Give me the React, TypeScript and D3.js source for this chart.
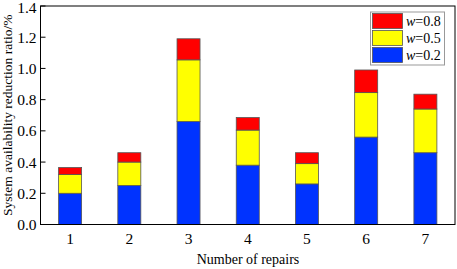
import React from "react";
import * as d3 from "d3";

const categories = ["1", "2", "3", "4", "5", "6", "7"];
const w02 = [0.2, 0.25, 0.66, 0.38, 0.26, 0.56, 0.46];
const w05 = [0.12, 0.15, 0.395, 0.225, 0.13, 0.285, 0.28];
const w08 = [0.045, 0.06, 0.135, 0.08, 0.07, 0.145, 0.095];
const yTicks = [0, 0.2, 0.4, 0.6, 0.8, 1.0, 1.2, 1.4];
const colors = ["#0033ff", "#ffff00", "#ff0000"];

const W = 457, H = 269;
const M = { left: 40.5, right: 455, top: 6, bottom: 224.5 };
const font = "'Liberation Serif', 'Times New Roman', serif";

export default function App() {
  const x = d3.scaleLinear().domain([0.5, 7.5]).range([M.left, M.right]);
  const y = d3.scaleLinear().domain([0, 1.4]).range([M.bottom, M.top]);
  const rows = categories.map((c, i) => ({ c, i, a: w02[i], b: w05[i], r: w08[i] }));
  const stack = d3.stack<any>().keys(["a", "b", "r"])(rows);
  const bw = 23;
  const legend = [
    { name: "0.8", color: colors[2] },
    { name: "0.5", color: colors[1] },
    { name: "0.2", color: colors[0] },
  ];
  return (
    <svg width={W} height={H} style={{ position: "absolute", left: 0, top: 0, background: "#fff" }} fontFamily={font}>
      {stack.map((s, si) => (
        <g key={si}>
          {s.map((d, i) => (
            <rect key={i} x={x(i + 1) - bw / 2} width={bw} y={y(d[1])} height={y(d[0]) - y(d[1])}
              fill={colors[si]} stroke="#555" strokeWidth={0.8} />
          ))}
        </g>
      ))}
      <rect x={M.left} y={M.top} width={M.right - M.left} height={M.bottom - M.top} fill="none" stroke="#000" strokeWidth={1} />
      {yTicks.map((t) => (
        <g key={t}>
          <line x1={M.left} x2={M.left + 5} y1={y(t)} y2={y(t)} stroke="#000" />
          <text x={M.left - 4} y={Math.max(y(t) + 5.5, 13)} textAnchor="end" fontSize={15.5}>{t.toFixed(1)}</text>
        </g>
      ))}
      {categories.map((c, i) => (
        <text key={c} x={x(i + 1)} y={244} textAnchor="middle" fontSize={15.5}>{c}</text>
      ))}
      <text x={248} y={264} textAnchor="middle" fontSize={14}>Number of repairs</text>
      <text transform={`translate(12,${(M.top + M.bottom) / 2}) rotate(-90)`} textAnchor="middle" fontSize={13.5}>System availability reduction ratio/%</text>
      <rect x={370.5} y={12} width={74} height={53} fill="#fff" stroke="#999" strokeWidth={1} />
      {legend.map((l, i) => (
        <g key={l.name}>
          <rect x={372.5} y={13.5 + i * 17} width={30} height={15} fill={l.color} stroke="#555" strokeWidth={0.8} />
          <text x={406} y={21 + i * 17} dy="0.35em" fontSize={14}>
            <tspan fontStyle="italic">w</tspan>={l.name}
          </text>
        </g>
      ))}
    </svg>
  );
}
